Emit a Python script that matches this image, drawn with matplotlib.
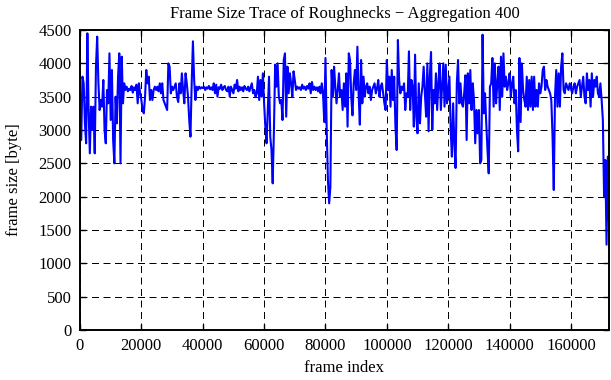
import numpy as np
import matplotlib
matplotlib.use("Agg")
import matplotlib.pyplot as plt

aggregation = 400

block1 = [3550, 2850, 3800, 3700, 3100, 2800, 4450, 3300, 2650, 3350,
          3000, 3350, 2650, 3950, 4400, 3700, 3300, 3450, 3350, 3750,
          3000, 2800, 3600, 3400, 4150, 3150, 3900, 2850, 2500, 3500,
          3100, 3800, 4150, 2500, 4100, 3400, 3700, 3600, 3650, 3580,
          3620, 3600, 3660, 3560, 3640, 3600, 3680, 3400, 3700, 3550]
block2 = [3450, 3300, 3250, 3500, 3900, 3700, 3800, 3450, 3600, 3450,
          3600, 3650, 3600, 3650, 3580, 3700, 3550, 3700, 3450, 3400,
          3350, 3300, 4000, 3950, 3550, 3650, 3600, 3650, 3700, 3500,
          3420, 3700, 3550, 3850, 3600, 3400, 3850, 3700, 3500, 3150,
          2900, 3700, 4330, 3750, 3450, 3650, 3600, 3650, 3620, 3640]
block3 = [3630, 3650, 3600, 3640, 3620, 3660, 3610, 3640, 3600, 3700,
          3550, 3680, 3500, 3640, 3620, 3680, 3600, 3640, 3660, 3600,
          3580, 3650, 3500, 3650, 3600, 3550, 3680, 3620, 3750, 3580,
          3650, 3600, 3640, 3580, 3660, 3620, 3600, 3650, 3580, 3640,
          3700, 3550, 3600, 3500, 3550, 3800, 3450, 3750, 3500, 3850]
block4 = [3400, 3050, 2800, 3300, 3800, 2900, 2700, 2200, 3000, 3980,
          3650, 4000, 3500, 3400, 3450, 3150, 4050, 4150, 3200, 3950,
          3550, 3850, 3700, 3500, 3880, 3750, 3600, 3650, 3620, 3640,
          3600, 3680, 3620, 3650, 3600, 3660, 3620, 3700, 3550, 3720,
          3600, 3650, 3600, 3640, 3580, 3650, 3550, 3700, 3550, 3120]
block5 = [4080, 3000, 2250, 1900, 2150, 3900, 3500, 3950, 3650, 3400,
          3600, 3850, 3500, 3600, 3300, 3700, 3350, 3850, 3050, 4150,
          4050, 3500, 3220, 3700, 3900, 3600, 4250, 3550, 3080, 4050,
          3400, 3800, 3500, 3650, 3700, 3550, 3650, 3450, 3600, 3650,
          3700, 3550, 3620, 3750, 3500, 3650, 3700, 3550, 3400, 3300]
block6 = [4050, 3600, 3800, 3350, 3900, 3450, 3800, 3050, 2700, 4350,
          3750, 3550, 3650, 3600, 3700, 3300, 3550, 3500, 4180, 3300,
          3750, 3650, 3050, 4130, 3200, 2950, 3700, 3100, 3500, 3650,
          3950, 3550, 3200, 4000, 2980, 3800, 4170, 3000, 3600, 3400,
          3850, 3300, 3700, 4000, 3300, 3650, 4000, 3350, 3980, 3400]
block7 = [3600, 3800, 3000, 2600, 3400, 2800, 2430, 3700, 4050, 3400,
          3700, 3400, 3350, 3550, 3820, 2850, 3850, 3400, 3900, 3300,
          3700, 3450, 2800, 3300, 2950, 3300, 2500, 2550, 4430, 3250,
          3550, 3100, 2700, 2350, 3650, 3700, 4080, 3350, 4000, 3400,
          3700, 3950, 3300, 4100, 3500, 4150, 3650, 3800, 3600, 3700]
block8 = [3850, 3500, 3700, 3800, 3400, 3600, 3000, 2680, 4080, 3120,
          4000, 3600, 3450, 3350, 3800, 3300, 3750, 3350, 3800, 3300,
          3800, 3350, 3600, 3350, 3700, 3550, 3650, 3900, 3950, 3600,
          3750, 3650, 3600, 3550, 3450, 2900, 2100, 3500, 3900, 3350,
          3850, 3350, 3950, 4150, 3600, 3550, 3700, 3650, 3600, 3700]
block9 = [3620, 3550, 3650, 3700, 3550, 3650, 3700, 3750, 3500, 3650,
          3800, 3500, 3400, 3850, 3600, 3750, 3350, 3850, 3500, 3750,
          3650, 3800, 3550, 3500, 3700, 3450, 3150, 2000, 2550, 1280,
          2600, 1650]

frame_size = np.array(block1 + block2 + block3 + block4 + block5 +
                      block6 + block7 + block8 + block9, dtype=float)
frame_index = np.arange(len(frame_size)) * aggregation

x_ticks = [0, 20000, 40000, 60000, 80000, 100000, 120000, 140000, 160000]
y_ticks = [0, 500, 1000, 1500, 2000, 2500, 3000, 3500, 4000, 4500]

title = "Frame Size Trace of Roughnecks \u2212 Aggregation 400"
xlabel = "frame index"
ylabel = "frame size [byte]"

plt.rcParams['font.family'] = ['Liberation Serif', 'DejaVu Serif']
fs = 12

fig = plt.figure(figsize=(6.11, 3.80), dpi=100)
ax = fig.add_axes([80 / 611, 50 / 380, 529 / 611, 300 / 380])

ax.plot(frame_index, frame_size, color=(0, 0, 1), linewidth=1.5, zorder=3)

ax.set_xlim(0, frame_index[-1])
ax.set_ylim(0, 4500)
ax.set_xticks(x_ticks)
ax.set_yticks(y_ticks)
ax.set_xticklabels([str(v) for v in x_ticks])
ax.set_yticklabels([str(v) for v in y_ticks])

ax.grid(True, color='black', linestyle=(0, (7, 4.5)), linewidth=0.72, zorder=1)
ax.tick_params(direction='in', length=4.5, width=1.0, top=True, right=True,
               colors='black', labelsize=fs)
ax.tick_params(axis='x', pad=6)
ax.tick_params(axis='y', pad=6)
for s in ax.spines.values():
    s.set_linewidth(1.4)
    s.set_color('black')
    s.set_zorder(4)

ax.set_title(title, fontsize=fs, pad=9)
ax.set_xlabel(xlabel, fontsize=fs, labelpad=4)
ax.set_ylabel(ylabel, fontsize=fs, labelpad=12)

fig.savefig("out.png", dpi=100)
